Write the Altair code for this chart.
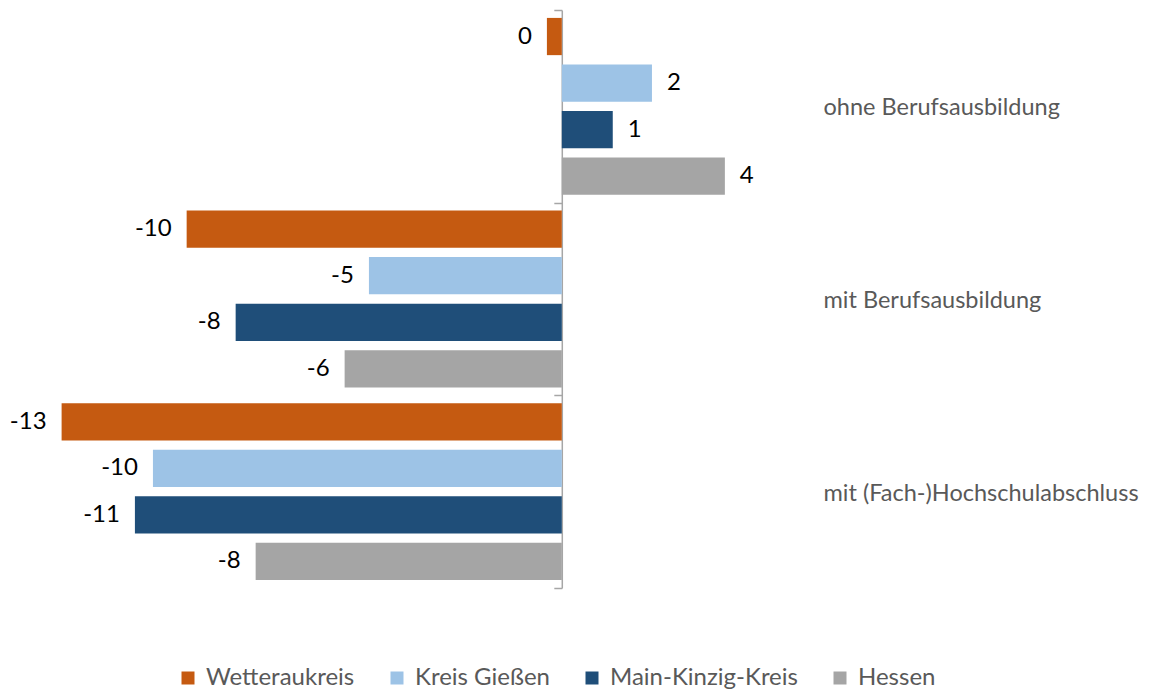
import altair as alt
import pandas as pd

categories = ["ohne Berufsausbildung", "mit Berufsausbildung", "mit (Fach-)Hochschulabschluss"]
series = ["Wetteraukreis", "Kreis Gießen", "Main-Kinzig-Kreis", "Hessen"]
colors = ["#C55A11", "#9DC3E6", "#1F4E79", "#A5A5A5"]

wetterau = [-0.38, -9.57, -12.76]
giessen = [2.30, -4.92, -10.43]
mkk = [1.30, -8.32, -10.89]
hessen = [4.16, -5.54, -7.81]

rows = []
for s, vals in zip(series, [wetterau, giessen, mkk, hessen]):
    for c, v in zip(categories, vals):
        rows.append({"cat": c, "series": s, "value": v, "label": str(int(round(v)))})
df = pd.DataFrame(rows)

FONT = "Lato"
W, H = 784, 578
XMIN, XMAX = -14, 6

yscale = alt.Scale(domain=categories, paddingInner=0, paddingOuter=0)
right_axis = alt.Axis(orient="right", title=None, domain=False, ticks=False, labelPadding=26,
                      labelFontSize=23.5, labelFont=FONT, labelColor="#595959", labelLimit=400,
                      labelOffset=2)
zero_px = W * (0 - XMIN) / (XMAX - XMIN)
left_axis = alt.Axis(orient="left", title=None, labels=False, domain=True,
                     domainColor="#A6A6A6", domainWidth=1.5, tickColor="#A6A6A6",
                     tickWidth=1.5, tickSize=8, tickBand="extent", offset=-zero_px)

xdef = alt.X("value:Q", scale=alt.Scale(domain=[XMIN, XMAX], nice=False, zero=False), axis=None)
yoff = alt.YOffset("series:N", sort=series,
                   scale=alt.Scale(domain=series, paddingInner=0.2, paddingOuter=0.17))

base = alt.Chart(df)

bars = base.mark_bar().encode(
    x=xdef,
    y=alt.Y("cat:N", sort=categories, scale=yscale, axis=right_axis),
    yOffset=yoff,
    color=alt.Color("series:N", sort=series,
                    scale=alt.Scale(domain=series, range=colors),
                    legend=alt.Legend(orient="none", legendX=163, legendY=656,
                                      direction="horizontal", title=None,
                                      symbolType="square", symbolSize=169,
                                      symbolStrokeWidth=0, labelFontSize=24,
                                      labelFont=FONT, labelColor="#595959",
                                      labelLimit=400,
                                      columnPadding=30, labelOffset=6)),
)

neg_labels = base.transform_filter("datum.value < 0").mark_text(
    align="right", baseline="middle", dx=-15, font=FONT, fontSize=24, color="#000000"
).encode(x=xdef, y=alt.Y("cat:N", sort=categories, scale=yscale, axis=left_axis),
         yOffset=yoff, text="label:N")

pos_labels = base.transform_filter("datum.value >= 0").mark_text(
    align="left", baseline="middle", dx=15, font=FONT, fontSize=24, color="#000000"
).encode(x=xdef, y=alt.Y("cat:N", sort=categories, scale=yscale, axis=None),
         yOffset=yoff, text="label:N")

chart = alt.layer(bars, neg_labels, pos_labels).resolve_axis(y="independent").properties(
    width=W, height=H,
    background="white",
    autosize=alt.AutoSizeParams(type="none"),
    padding={"left": 5, "top": 2, "right": 350, "bottom": 103},
).configure_view(stroke=None)

chart.save("out.html", embed_options={"renderer": "svg", "actions": False})
